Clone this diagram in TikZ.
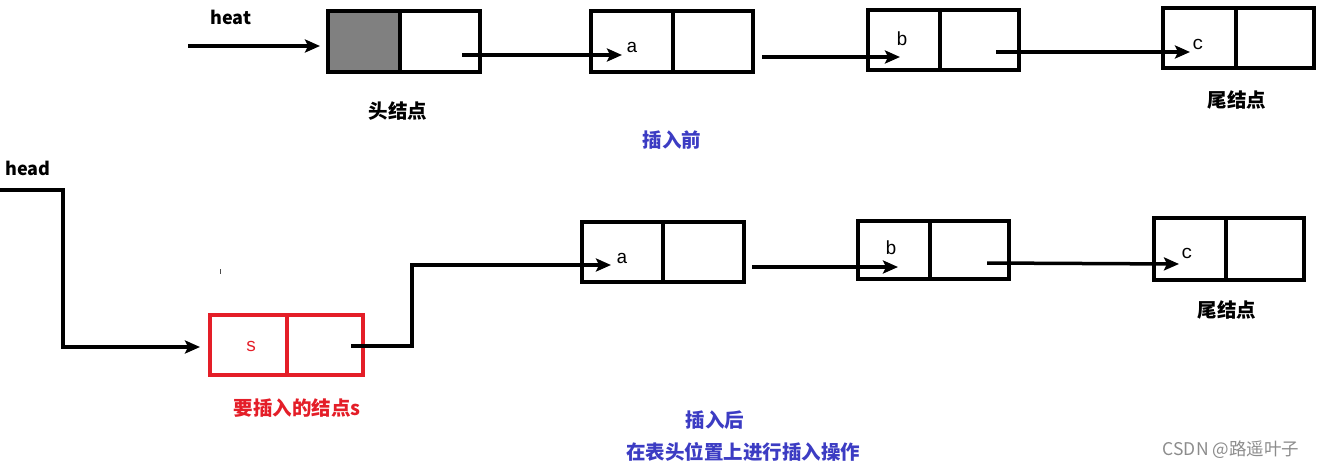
\documentclass[tikz,border=0pt]{standalone}
\usepackage{fontspec}
\setmainfont{Noto Sans CJK SC}
\newfontfamily\monof{Liberation Mono}
\usetikzlibrary{arrows.meta}
\definecolor{lblue}{RGB}{60,60,195}
\definecolor{lred}{RGB}{228,30,40}
\definecolor{lgray}{RGB}{128,128,128}
\tikzset{
  cell/.style={draw=black, line width=4.5pt, rectangle, inner sep=0pt, minimum height=60pt},
  rcell/.style={cell, draw=lred},
  link/.style={line width=3.5pt, -{Stealth[length=15pt,width=13pt,inset=3pt]}},
  letter/.style={font=\monof\fontsize{19}{19}\selectfont, inner sep=0pt},
  lbl/.style={font=\bfseries\fontsize{19.5}{21}\selectfont, inner sep=0pt},
  blbl/.style={font=\bfseries\fontsize{19.5}{21}\selectfont, text=lblue, inner sep=0pt},
}
\begin{document}
\begin{tikzpicture}[x=1pt,y=-1pt]
\useasboundingbox (0,0) rectangle (1320,469);
% ---------- top row ----------
\node[cell, fill=lgray, minimum width=72pt, minimum height=61pt] (H1) at (364,41.5) {};
\node[cell, minimum width=80pt, minimum height=61pt] (H2) at (440,41.5) {};
\node[cell, minimum width=82pt, minimum height=61pt] (A1) at (632,41.5) {};
\node[cell, minimum width=80pt, minimum height=61pt] (A2) at (713,41.5) {};
\node[cell, minimum width=72pt] (B1) at (904,40) {};
\node[cell, minimum width=79pt] (B2) at (979.5,40) {};
\node[cell, minimum width=73pt] (C1) at (1199.5,38) {};
\node[cell, minimum width=78pt] (C2) at (1275,38) {};
\node[letter] (la) at (632,47) {a};
\node[letter] (lb) at (902,39) {b};
\node[letter] (lc) at (1198,44) {c};
\node[lbl, font=\bfseries\fontsize{18}{20}\selectfont] (heat) at (231,17) {heat};
\coordinate (heatS) at (188,46);
\coordinate (heatE) at (320,46);
\draw[link] (heatS) -- (heatE);
\coordinate (hS) at (462,55);
\coordinate (aE) at (622,55);
\draw[link] (hS) -- (aE);
\coordinate (aS) at (762,57);
\coordinate (bE) at (900,57);
\draw[link] (aS) -- (bE);
\coordinate (bS) at (996,52);
\coordinate (cE) at (1190,52);
\draw[link] (bS) -- (cE);
\node[lbl] (headlbl) at (398,111) {头结点};
\node[blbl] (before) at (672,140) {插入前};
\node[lbl] (tail1) at (1237,100) {尾结点};
% ---------- bottom row ----------
\node[rcell, minimum width=77pt] (S1) at (248.5,345) {};
\node[rcell, minimum width=76pt] (S2) at (325,345) {};
\node[cell, minimum width=81pt] (A1b) at (622.5,252) {};
\node[cell, minimum width=81pt] (A2b) at (703.5,252) {};
\node[cell, minimum width=72pt, minimum height=58pt] (B1b) at (894,250) {};
\node[cell, minimum width=79pt, minimum height=58pt] (B2b) at (969.5,250) {};
\node[cell, minimum width=72pt, minimum height=62pt] (C1b) at (1190,249) {};
\node[cell, minimum width=78pt, minimum height=62pt] (C2b) at (1265,249) {};
\node[letter, text=lred] (ls) at (251,346) {s};
\node[letter] (lab) at (622,258) {a};
\node[letter] (lbb) at (891,248) {b};
\node[letter] (lcb) at (1187,253) {c};
\node[lbl, font=\bfseries\fontsize{18}{20}\selectfont] (head) at (28,168) {head};
\coordinate (hd0) at (0,190);
\coordinate (hd1) at (63,190);
\coordinate (hd2) at (63,347);
\coordinate (sE) at (200,347);
\draw[link] (hd0) -- (hd1) -- (hd2) -- (sE);
\coordinate (sS) at (351,346);
\coordinate (sT1) at (412,346);
\coordinate (sT2) at (412,265);
\coordinate (abE) at (611,265);
\draw[link] (sS) -- (sT1) -- (sT2) -- (abE);
\coordinate (abS) at (752,267);
\coordinate (bbE) at (898,267);
\draw[link] (abS) -- (bbE);
\coordinate (bbS) at (987,263);
\coordinate (cbE) at (1179,264);
\draw[link] (bbS) -- (cbE);
\node[lbl] (tail2) at (1227,310) {尾结点};
\node[lbl, text=lred] (snode) at (297,408) {要插入的结点s};
\node[blbl] (after) at (715,420) {插入后};
\node[blbl] (op) at (743,452) {在表头位置上进行插入操作};
\draw[line width=1pt, black!70] (220,269) -- (220,274);
\node[font=\fontsize{17.5}{18}\selectfont, text=black!45, inner sep=0pt] (wm) at (1231,450) {CSDN @路遥叶子};
\end{tikzpicture}
\end{document}
